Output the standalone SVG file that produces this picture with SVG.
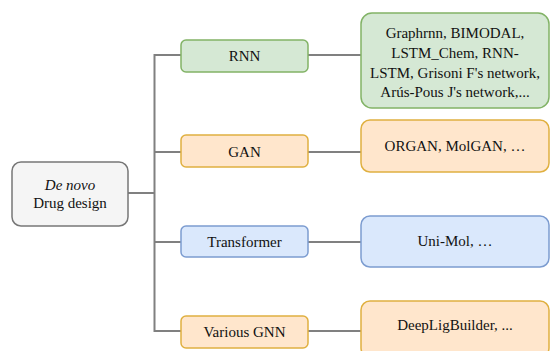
<svg xmlns="http://www.w3.org/2000/svg" width="550" height="351" viewBox="0 0 550 351">
<style>
.g{fill:#d5e8d4;stroke:#82b366;stroke-width:1.5}
.o{fill:#ffe6cc;stroke:#e0b040;stroke-width:1.5}
.b{fill:#dae8fc;stroke:#7c9cd0;stroke-width:1.5}
.r{fill:#f5f5f5;stroke:#777;stroke-width:1.5}
.c{fill:none;stroke:#808080;stroke-width:2}
</style>
<rect width="550" height="351" fill="#fff"/>
<g id="connectors">
<path class="c" d="M128,193H154.5"/>
<path class="c" d="M181,55H154.5V331H181"/>
<path class="c" d="M154.5,152H181"/>
<path class="c" d="M154.5,242H181"/>
<path class="c" d="M308,55H361"/>
<path class="c" d="M308,152H361"/>
<path class="c" d="M308,242H361"/>
<path class="c" d="M308,331H361"/>
</g>
<g font-family="Liberation Serif, Times New Roman, serif" font-size="15" fill="#111" text-anchor="middle">
<g id="root">
<rect class="r" x="12" y="162" width="116" height="64" rx="9"/>
<text x="70" y="190" font-style="italic">De novo</text>
<text x="70" y="208">Drug design</text>
</g>
<g id="rnn">
<rect class="g" x="181" y="40" width="127" height="32" rx="5"/>
<text x="244.5" y="61">RNN</text>
</g>
<g id="gan">
<rect class="o" x="181" y="135" width="127" height="32" rx="5"/>
<text x="244.5" y="157">GAN</text>
</g>
<g id="transformer">
<rect class="b" x="181" y="226" width="127" height="31" rx="5"/>
<text x="244.5" y="247">Transformer</text>
</g>
<g id="gnn">
<rect class="o" x="181" y="316" width="127" height="32" rx="5"/>
<text x="244.5" y="337">Various GNN</text>
</g>
<g id="rnn-models">
<rect class="g" x="361" y="13" width="188" height="95" rx="11"/>
<text x="455" y="38">Graphrnn, BIMODAL,</text>
<text x="455" y="58">LSTM_Chem, RNN-</text>
<text x="455" y="78">LSTM, Grisoni F's network,</text>
<text x="455" y="97">Arús-Pous J's network,...</text>
</g>
<g id="gan-models">
<rect class="o" x="361" y="120" width="188" height="52" rx="9"/>
<text x="455" y="151">ORGAN, MolGAN, …</text>
</g>
<g id="transformer-models">
<rect class="b" x="361" y="216" width="188" height="51" rx="9"/>
<text x="455" y="246">Uni-Mol, …</text>
</g>
<g id="gnn-models">
<rect class="o" x="361" y="301" width="188" height="56" rx="9"/>
<text x="455" y="330">DeepLigBuilder, ...</text>
</g>
</g>
</svg>
